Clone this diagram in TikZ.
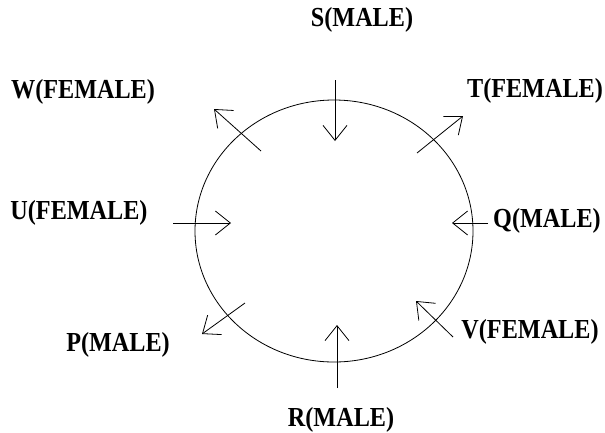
\documentclass[tikz,border=0pt]{standalone}
\usepackage{fontspec}
\setmainfont{Liberation Serif}
\usetikzlibrary{arrows.meta}
\newcommand{\lbltxt}[1]{\scalebox{0.88}[1]{\fontsize{27.5}{29}\selectfont\bfseries #1}}
\tikzset{
  lbl/.style={inner sep=0pt, anchor=center},
  sexarrow/.style={line width=0.8pt, -{Straight Barb[length=15pt,width=24pt,line width=0.8pt]}},
}
\begin{document}
\begin{tikzpicture}[x=1pt,y=-1pt]
\useasboundingbox (0,0) rectangle (605,432);
\draw[line width=0.8pt] (334,231) ellipse [x radius=139, y radius=131];
% labels
\node[lbl] (S) at (362,20) {\lbltxt{S(MALE)}};
\node[lbl] (W) at (83,92) {\lbltxt{W(FEMALE)}};
\node[lbl] (T) at (535,91) {\lbltxt{T(FEMALE)}};
\node[lbl] (U) at (79,213) {\lbltxt{U(FEMALE)}};
\node[lbl] (Q) at (547,221) {\lbltxt{Q(MALE)}};
\node[lbl] (P) at (118,345) {\lbltxt{P(MALE)}};
\node[lbl] (V) at (530,332) {\lbltxt{V(FEMALE)}};
\node[lbl] (R) at (341,420) {\lbltxt{R(MALE)}};
% arrow end points
\coordinate (s1) at (335,80);  \coordinate (s2) at (335,141);
\coordinate (r1) at (337,388); \coordinate (r2) at (337,325);
\coordinate (u1) at (173,223); \coordinate (u2) at (231,223);
\coordinate (q1) at (488,223); \coordinate (q2) at (452,223);
\coordinate (w1) at (261,151); \coordinate (w2) at (214,109);
\coordinate (t1) at (417,153); \coordinate (t2) at (463,116);
\coordinate (p1) at (245,303); \coordinate (p2) at (202,334);
\coordinate (v1) at (453,337); \coordinate (v2) at (416,301);
\draw[sexarrow] (s1) -- (s2);
\draw[sexarrow] (r1) -- (r2);
\draw[sexarrow] (u1) -- (u2);
\draw[sexarrow] (q1) -- (q2);
\draw[sexarrow] (w1) -- (w2);
\draw[sexarrow] (t1) -- (t2);
\draw[sexarrow] (p1) -- (p2);
\draw[sexarrow] (v1) -- (v2);
\end{tikzpicture}
\end{document}
